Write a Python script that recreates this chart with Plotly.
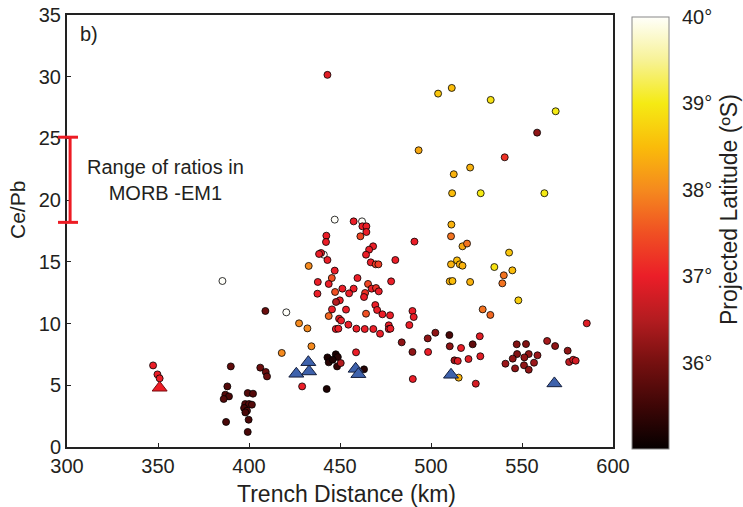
import plotly.graph_objects as go

# ---------------- data ----------------
trench_km = [
    347.3, 349.7, 350.9, 385.4,
    390.0, 388.1, 387.0, 389.0, 386.1, 387.4, 399.3, 402.2,
    397.9, 400.0, 401.6, 397.3, 398.9, 398.0, 399.8, 399.3,
    406.2, 409.2, 409.9, 409.0, 420.5,
    427.5, 432.1, 434.3, 418.0, 432.8, 429.2,
    442.7, 443.1, 447.7, 448.8, 443.8, 446.0, 448.4, 450.4, 463.2, 458.8,
    443.1, 503.9, 493.2, 511.4, 532.8, 568.5, 558.3, 540.5, 521.5, 512.5,
    511.6, 527.3, 562.3, 511.2,
    447.1, 462.1, 441.1,
    457.5, 462.3, 464.5, 464.5, 442.5, 442.3, 461.2, 468.2, 466.0, 490.9,
    439.6, 438.5, 443.1, 464.3, 480.4, 466.9, 469.6, 471.1, 447.1, 478.1,
    437.8, 445.5, 459.6, 443.8, 465.4, 451.3, 457.5, 447.3, 455.0, 467.4,
    469.8, 471.3, 463.8, 463.2, 437.6, 449.9, 447.8, 469.4, 445.6, 453.3,
    470.4, 464.3, 473.3, 477.5, 443.8, 489.8, 490.5, 449.5, 450.6, 454.6,
    476.8, 476.8, 477.7, 459.0, 463.6, 468.3, 447.7, 449.1, 472.0, 488.1,
    502.4, 498.2, 483.9, 489.8, 498.4, 490.0,
    511.0, 517.3, 519.8, 542.9, 511.0, 514.3, 515.8, 517.3, 534.8, 540.0,
    544.7, 510.3, 511.8, 521.5, 539.2, 548.0, 528.4, 532.6, 585.6, 510.1,
    510.3, 516.5, 522.9, 526.8, 512.9, 514.7, 520.6, 527.1, 515.2, 524.6,
    547.1, 552.2, 563.8, 568.2, 575.1, 547.3, 553.7, 558.5, 544.9, 551.3,
    556.6, 540.9, 551.1, 546.2, 553.7, 575.9, 578.1, 579.5,
]
ce_pb = [
    6.61, 5.88, 5.56, 13.45,
    6.53, 4.91, 4.24, 4.10, 3.89, 2.03, 4.37, 4.32,
    3.48, 3.48, 3.43, 3.16, 2.94, 2.80, 2.21, 1.22,
    6.43, 6.08, 5.72, 11.02, 10.91,
    10.02, 9.61, 8.16, 7.62, 14.67, 4.91,
    4.70, 7.26, 7.51, 7.29, 6.86, 7.07, 6.53, 6.80, 6.29, 7.67,
    30.15, 28.63, 24.04, 29.09, 28.12, 27.20, 25.47, 23.47, 22.64, 22.10,
    20.56, 20.56, 20.56, 18.02,
    18.42, 18.28, 15.58,
    18.28, 17.88, 17.88, 17.42, 17.12, 16.61, 17.07, 16.26, 15.99, 16.64,
    15.72, 15.64, 15.15, 15.58, 15.15, 14.96, 14.80, 14.80, 14.29, 13.42,
    13.37, 13.69, 13.69, 13.21, 13.21, 12.83, 12.83, 12.56, 12.45, 12.83,
    12.88, 12.61, 12.48, 12.15, 12.42, 11.88, 11.75, 11.50, 11.15, 11.13,
    11.10, 10.80, 10.75, 10.67, 10.61, 11.02, 10.53, 10.40, 10.24, 9.91,
    9.86, 9.56, 9.59, 9.59, 9.56, 9.56, 9.56, 9.59, 9.18, 9.88,
    9.26, 8.80, 8.48, 7.70, 7.70, 5.51,
    17.07, 16.26, 16.48, 15.75, 14.80, 15.12, 14.80, 14.69, 14.58, 13.91,
    14.31, 13.42, 13.45, 13.37, 13.26, 11.88, 11.15, 10.70, 10.02, 9.07,
    8.16, 8.02, 8.32, 8.97, 7.02, 6.97, 7.13, 7.35, 5.62, 5.13,
    8.32, 8.34, 8.59, 8.18, 7.80, 7.53, 7.53, 7.43, 7.16, 7.26,
    6.83, 6.75, 6.62, 6.37, 6.26, 6.89, 7.07, 6.99,
]
latitude = [
    37.0, 37.0, 37.0, 40.0,
    35.8, 35.7, 35.7, 35.6, 35.7, 35.6, 35.7, 35.7,
    35.7, 35.7, 35.7, 35.6, 35.7, 35.6, 35.6, 35.6,
    35.9, 35.9, 35.9, 35.9, 40.0,
    38.0, 38.0, 38.0, 38.0, 38.0, 37.0,
    35.2, 35.2, 35.2, 35.3, 35.3, 35.2, 35.4, 36.5, 35.3, 37.0,
    36.9, 38.6, 38.3, 38.5, 38.9, 39.0, 36.2, 37.2, 38.4, 38.4,
    38.5, 39.0, 39.0, 38.4,
    40.0, 40.0, 40.0,
    37.0, 37.0, 37.0, 37.0, 37.0, 37.0, 37.4, 37.0, 37.0, 37.0,
    37.0, 37.0, 37.0, 37.0, 37.0, 37.0, 37.3, 37.3, 37.0, 37.0,
    37.0, 37.5, 37.0, 37.0, 37.4, 37.0, 37.0, 37.5, 37.0, 37.0,
    37.2, 37.0, 37.2, 37.0, 37.0, 37.0, 36.5, 37.0, 37.0, 37.0,
    37.0, 37.5, 37.0, 37.0, 37.7, 37.0, 37.0, 36.9, 37.0, 37.0,
    37.0, 37.0, 37.0, 37.0, 37.0, 37.0, 37.0, 37.0, 37.0, 37.0,
    36.2, 36.2, 36.2, 36.2, 37.0, 37.0,
    37.8, 38.3, 37.8, 38.6, 38.4, 38.5, 38.4, 38.4, 38.9, 37.8,
    38.5, 38.4, 38.5, 38.4, 37.8, 38.7, 37.8, 37.7, 36.9, 35.6,
    36.2, 37.0, 35.8, 36.9, 36.3, 36.9, 36.9, 36.9, 38.4, 36.8,
    36.1, 36.1, 36.4, 36.2, 36.2, 36.1, 36.2, 36.3, 36.2, 36.2,
    36.3, 36.3, 36.2, 36.2, 36.2, 36.6, 36.8, 36.8,
]

blue_tri_km = [426.0, 432.6, 433.0, 458.6, 460.1, 511.0, 567.8]
blue_tri_cepb = [5.93, 6.87, 6.12, 6.33, 5.90, 5.85, 5.15]
red_tri_km = [350.9]
red_tri_cepb = [4.80]

range_label = "Range of ratios in<br>MORB -EM1"
range_lo, range_hi = 18.2, 25.1
range_x = 301.7

x_ticks = [300, 350, 400, 450, 500, 550, 600]
y_ticks = [0, 5, 10, 15, 20, 25, 30, 35]
cb_ticks = [36, 37, 38, 39, 40]
cb_labels = ["36°", "37°", "38°", "39°", "40°"]
cb_minor = [35.5, 36.5, 37.5, 38.5, 39.5]

X_RANGE = [300, 600]
Y_RANGE = [0, 35]
LAT_RANGE = [35, 40]

# ---------------- style ----------------
FONT = "Liberation Sans, Arial, sans-serif"
TXT = "#231f20"
RED = "rgb(237,28,36)"

hot = [
    [0.00, "rgb(5,0,0)"],
    [0.10, "rgb(62,6,6)"],
    [0.20, "rgb(118,16,16)"],
    [0.30, "rgb(180,28,32)"],
    [0.40, "rgb(235,30,40)"],
    [0.50, "rgb(240,80,35)"],
    [0.60, "rgb(245,138,30)"],
    [0.70, "rgb(250,188,10)"],
    [0.80, "rgb(245,234,20)"],
    [0.90, "rgb(247,242,150)"],
    [1.00, "rgb(255,255,250)"],
]

W, H = 743, 507
ML, MR, MT, MB = 67, 130, 15, 60
PW, PH = W - ML - MR, H - MT - MB


def px_x(px):
    return (px - ML) / PW


def px_y(py):
    return (H - MB - py) / PH


def dx(v):
    return (v - X_RANGE[0]) / (X_RANGE[1] - X_RANGE[0])


def dy(v):
    return (v - Y_RANGE[0]) / (Y_RANGE[1] - Y_RANGE[0])


fig = go.Figure()

fig.add_trace(go.Scatter(
    x=trench_km, y=ce_pb, mode="markers",
    marker=dict(
        size=7, color=latitude, colorscale=hot, cmin=LAT_RANGE[0], cmax=LAT_RANGE[1],
        line=dict(color="black", width=0.8),
        showscale=True,
        colorbar=dict(
            x=px_x(632), xanchor="left", xpad=0,
            y=px_y(449), yanchor="bottom", ypad=0,
            len=(449 - 17) / PH, lenmode="fraction",
            thickness=37, thicknessmode="pixels",
            outlinecolor="#888", outlinewidth=1,
            tickvals=cb_ticks, ticktext=cb_labels,
            ticks="outside", ticklen=9, tickcolor="rgba(0,0,0,0)",
            tickfont=dict(family=FONT, size=20, color=TXT),
        ),
    ),
    showlegend=False, hoverinfo="skip",
))

fig.add_trace(go.Scatter(
    x=blue_tri_km, y=blue_tri_cepb, mode="markers",
    marker=dict(symbol="triangle-up", size=13, color="rgb(62,98,172)",
                line=dict(color="rgb(20,30,60)", width=1)),
    showlegend=False, hoverinfo="skip",
))
fig.add_trace(go.Scatter(
    x=red_tri_km, y=red_tri_cepb, mode="markers",
    marker=dict(symbol="triangle-up", size=13, color=RED,
                line=dict(color="rgb(120,10,15)", width=1)),
    showlegend=False, hoverinfo="skip",
))

shapes = []
# range bar (MORB-EM1)
shapes.append(dict(type="line", xref="paper", yref="paper",
                   x0=dx(range_x), x1=dx(range_x), y0=dy(range_lo), y1=dy(range_hi),
                   line=dict(color=RED, width=3)))
for v in (range_lo, range_hi):
    shapes.append(dict(type="line", xref="paper", yref="paper",
                       x0=px_x(58), x1=px_x(78), y0=dy(v), y1=dy(v),
                       line=dict(color=RED, width=3)))
# colorbar minor ticks
cb_y0 = px_y(449)
cb_len = (449 - 17) / PH
for v in cb_minor:
    yy = cb_y0 + (v - LAT_RANGE[0]) / (LAT_RANGE[1] - LAT_RANGE[0]) * cb_len
    shapes.append(dict(type="line", xref="paper", yref="paper",
                       x0=px_x(664), x1=px_x(669), y0=yy, y1=yy,
                       line=dict(color="#444", width=1)))

annotations = [
    dict(text="b)", xref="paper", yref="paper", x=px_x(78), y=px_y(34),
         xanchor="left", yanchor="middle", showarrow=False,
         font=dict(family=FONT, size=20, color=TXT)),
    dict(text=range_label, xref="paper", yref="paper", x=px_x(165), y=px_y(180),
         xanchor="center", yanchor="middle", showarrow=False, align="center",
         font=dict(family=FONT, size=20, color=TXT)),
    dict(text="Ce/Pb", xref="paper", yref="paper", x=px_x(18), y=px_y(210),
         xanchor="center", yanchor="middle", showarrow=False, textangle=-90,
         font=dict(family=FONT, size=21, color=TXT)),
    dict(text="Trench Distance (km)", xref="paper", yref="paper", x=px_x(346), y=px_y(494),
         xanchor="center", yanchor="middle", showarrow=False,
         font=dict(family=FONT, size=23, color=TXT)),
    dict(text="Projected Latitude (ºS)", xref="paper", yref="paper", x=px_x(729), y=px_y(210),
         xanchor="center", yanchor="middle", showarrow=False, textangle=-90,
         font=dict(family=FONT, size=23, color=TXT)),
]

axis_common = dict(
    showgrid=False, zeroline=False, showline=True, linecolor="#222", linewidth=2,
    mirror=True, ticks="inside", ticklen=4, tickwidth=1, tickcolor="#222",
    tickfont=dict(family=FONT, size=20, color=TXT),
)

fig.update_layout(
    width=W, height=H,
    margin=dict(l=ML, r=MR, t=MT, b=MB, pad=0, autoexpand=False),
    paper_bgcolor="white", plot_bgcolor="white",
    xaxis=dict(range=X_RANGE, tickvals=x_ticks, **axis_common),
    yaxis=dict(range=Y_RANGE, tickvals=y_ticks, **axis_common),
    shapes=shapes, annotations=annotations,
    font=dict(family=FONT, color=TXT),
)

fig.write_html(
    "out.html",
    config={"displayModeBar": False, "staticPlot": True},
    post_script="document.body.style.margin='0px';document.body.style.overflow='hidden';",
)
